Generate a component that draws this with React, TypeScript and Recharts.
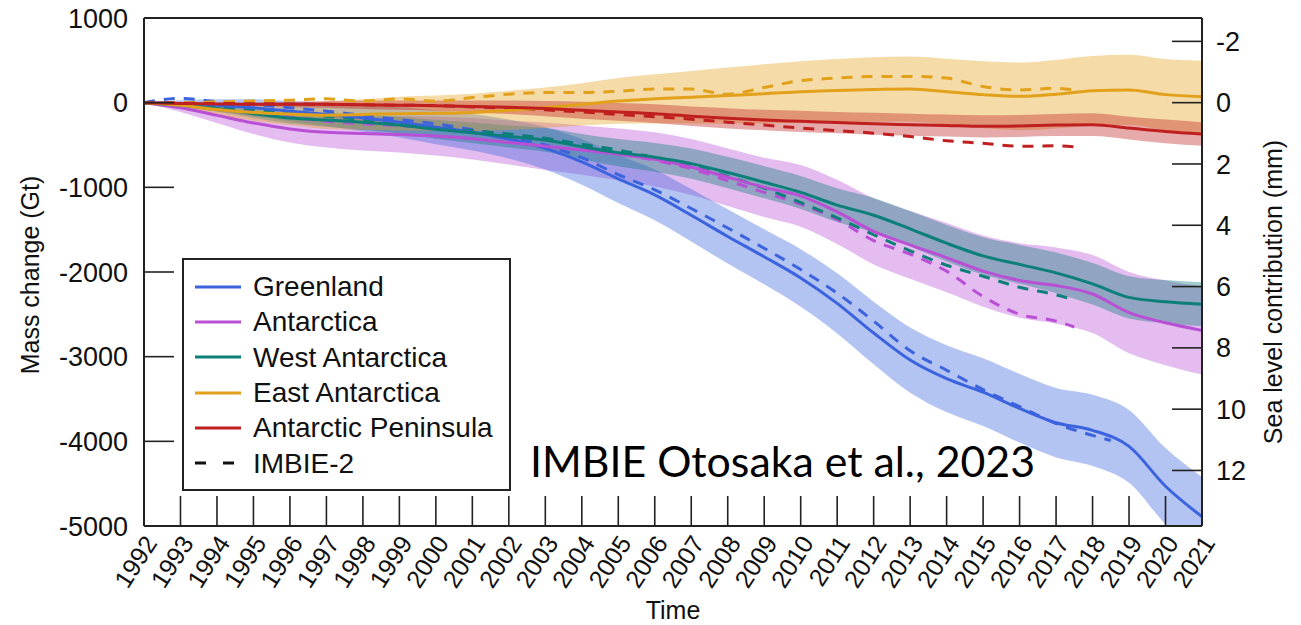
import React from "react";
import { ComposedChart, Line, Area, XAxis, YAxis, Legend } from "recharts";

const years = [
  1992, 1993, 1994, 1995, 1996, 1997, 1998, 1999, 2000, 2001, 2002, 2003, 2004, 2005, 2006,
  2007, 2008, 2009, 2010, 2011, 2012, 2013, 2014, 2015, 2016, 2017, 2018, 2019, 2020, 2021,
];
// IMBIE-2 (Shepherd et al.) records stop earlier
const imbieYears = [
  1992, 1993, 1994, 1995, 1996, 1997, 1998, 1999, 2000, 2001, 2002, 2003, 2004, 2005, 2006,
  2007, 2008, 2009, 2010, 2011, 2012, 2013, 2014, 2015, 2016, 2017, 2017.5,
];
const greenlandImbieYears = [
  1992, 1993, 1994, 1995, 1996, 1997, 1998, 1999, 2000, 2001, 2002, 2003, 2004, 2005, 2006,
  2007, 2008, 2009, 2010, 2011, 2012, 2013, 2014, 2015, 2016, 2017, 2018, 2018.5,
];

const massTicks = [1000, 0, -1000, -2000, -3000, -4000, -5000];
const seaLevelTicks = [-2, 0, 2, 4, 6, 8, 10, 12];
const GT_PER_MM = 362;

// cumulative mass change (Gt)
const greenlandMean = [0, -10, -30, -60, -100, -140, -180, -230, -290, -350, -430, -540, -700, -900, -1090, -1330, -1580, -1820, -2070, -2370, -2720, -3040, -3260, -3420, -3610, -3780, -3870, -4060, -4530, -4890];
const greenlandErr = [0, 40, 70, 100, 120, 140, 160, 180, 200, 215, 230, 250, 270, 285, 300, 310, 320, 325, 340, 355, 370, 385, 395, 400, 405, 410, 420, 430, 450, 470];
const greenlandImbie = [0, 50, 10, -20, -60, -100, -150, -200, -250, -320, -400, -500, -650, -850, -1030, -1250, -1480, -1720, -1970, -2250, -2580, -2930, -3160, -3390, -3590, -3790, -3930, -3990];

const antarcticaMean = [0, -60, -150, -240, -310, -350, -365, -375, -395, -425, -470, -515, -560, -610, -670, -760, -880, -1000, -1100, -1290, -1520, -1680, -1830, -1990, -2100, -2160, -2260, -2480, -2600, -2690];
const antarcticaErr = [0, 50, 90, 130, 160, 180, 200, 215, 230, 245, 260, 280, 290, 305, 320, 330, 340, 350, 365, 380, 390, 400, 410, 420, 440, 450, 460, 480, 500, 520];
const antarcticaImbie = [0, -20, -60, -110, -170, -220, -250, -270, -300, -330, -380, -440, -510, -600, -680, -780, -920, -1060, -1200, -1380, -1630, -1790, -1990, -2290, -2500, -2580, -2650];

const westMean = [0, -30, -70, -130, -180, -205, -230, -265, -315, -355, -400, -440, -520, -590, -645, -720, -825, -940, -1060, -1210, -1330, -1490, -1660, -1810, -1910, -2010, -2140, -2300, -2350, -2380];
const westErr = [0, 20, 35, 50, 65, 80, 90, 100, 110, 120, 130, 140, 150, 160, 170, 180, 185, 190, 195, 200, 205, 210, 215, 220, 230, 240, 245, 250, 255, 260];
const westImbie = [0, -10, -40, -80, -120, -160, -200, -240, -290, -330, -370, -420, -490, -560, -650, -750, -870, -1010, -1180, -1360, -1560, -1750, -1920, -2050, -2180, -2270, -2330];

const eastMean = [0, -30, -80, -115, -135, -150, -140, -130, -125, -115, -90, -60, -20, 20, 45, 65, 85, 105, 130, 145, 155, 160, 130, 95, 75, 100, 140, 150, 95, 70];
const eastErr = [0, 40, 70, 100, 130, 160, 180, 200, 210, 220, 230, 240, 250, 270, 290, 310, 330, 350, 360, 370, 380, 385, 390, 395, 400, 405, 410, 415, 420, 425];
const eastImbie = [0, 0, 10, 20, 30, 45, 20, 45, 20, 60, 100, 120, 120, 135, 160, 160, 100, 180, 260, 290, 310, 310, 290, 190, 150, 170, 150];

const peninsulaMean = [0, -10, -15, -20, -20, -20, -25, -30, -35, -45, -55, -70, -90, -110, -130, -160, -185, -205, -220, -235, -250, -260, -270, -280, -275, -265, -260, -300, -340, -370];
const peninsulaErr = [0, 10, 15, 20, 30, 40, 50, 55, 60, 70, 80, 90, 100, 105, 110, 115, 120, 120, 125, 125, 130, 130, 130, 130, 130, 130, 135, 135, 140, 140];
const peninsulaImbie = [0, -5, -10, -12, -15, -20, -25, -30, -35, -50, -65, -85, -110, -140, -165, -195, -230, -265, -300, -330, -360, -400, -450, -480, -515, -510, -520];

const toLine = (xs: number[], ys: number[]) => xs.map((t, i) => ({ t, v: ys[i] }));
const toBand = (mean: number[], err: number[]) =>
  years.map((t, i) => ({ t, r: [mean[i] - err[i], mean[i] + err[i]] }));

const regions = [
  { name: "Greenland", color: "#3b63de", mean: greenlandMean, err: greenlandErr, imbieX: greenlandImbieYears, imbie: greenlandImbie },
  { name: "Antarctica", color: "#b94fd5", mean: antarcticaMean, err: antarcticaErr, imbieX: imbieYears, imbie: antarcticaImbie },
  { name: "West Antarctica", color: "#0b7f78", mean: westMean, err: westErr, imbieX: imbieYears, imbie: westImbie },
  { name: "East Antarctica", color: "#e2a11b", mean: eastMean, err: eastErr, imbieX: imbieYears, imbie: eastImbie },
  { name: "Antarctic Peninsula", color: "#c01f1f", mean: peninsulaMean, err: peninsulaErr, imbieX: imbieYears, imbie: peninsulaImbie },
];
const bandOrder = ["Antarctica", "Greenland", "West Antarctica", "East Antarctica", "Antarctic Peninsula"];

const FONT = "'Liberation Sans', Arial, sans-serif";

const YearTick = (props: any) => {
  const { x, y, payload } = props;
  const ax = x + 14;
  return (
    <text x={ax} y={y} transform={`rotate(-57 ${ax} ${y})`} textAnchor="end" fontSize={25} fill="#111" fontFamily={FONT}>
      {payload.value}
    </text>
  );
};

const LegendBox = () => (
  <div style={{ width: 329, height: 233, boxSizing: "border-box", border: "2px solid #222", background: "#fff", paddingTop: 9, fontFamily: FONT }}>
    {[...regions.map((r) => ({ name: r.name, color: r.color, dashed: false })), { name: "IMBIE-2", color: "#111", dashed: true }].map((item) => (
      <div key={item.name} style={{ display: "flex", alignItems: "center", height: 35.3 }}>
        <svg width={59} height={10}>
          <line x1={11} x2={57} y1={5} y2={5} stroke={item.color} strokeWidth={3} strokeDasharray={item.dashed ? "11 17" : undefined} />
        </svg>
        <span style={{ marginLeft: 10, fontSize: 28, lineHeight: "35px", color: "#111", whiteSpace: "nowrap" }}>{item.name}</span>
      </div>
    ))}
  </div>
);

export default function App() {
  return (
    <div style={{ position: "absolute", left: 0, top: 0, width: 1301, height: 625, background: "#fff" }}>
      <ComposedChart width={1301} height={625} margin={{ top: 0, right: 0, bottom: 0, left: 0 }}>
        <XAxis
          dataKey="t"
          type="number"
          domain={[1992, 2021]}
          ticks={years}
          interval={0}
          height={99}
          tickSize={-30}
          tickMargin={47}
          axisLine={{ stroke: "#222", strokeWidth: 2 }}
          tickLine={{ stroke: "#222", strokeWidth: 1.6 }}
          tick={<YearTick />}
          allowDataOverflow
        />
        <XAxis
          xAxisId="top"
          orientation="top"
          dataKey="t"
          type="number"
          domain={[1992, 2021]}
          ticks={years}
          interval={0}
          height={18}
          tickSize={-30}
          axisLine={{ stroke: "#222", strokeWidth: 2 }}
          tickLine={{ stroke: "#222", strokeWidth: 1.6 }}
          tick={false}
          allowDataOverflow
        />
        <YAxis
          type="number"
          domain={[-5000, 1000]}
          ticks={massTicks}
          interval={0}
          width={144}
          tickSize={-30}
          tickMargin={46}
          allowDataOverflow
          axisLine={{ stroke: "#222", strokeWidth: 2 }}
          tickLine={{ stroke: "#222", strokeWidth: 1.6 }}
          tick={{ fill: "#111", fontSize: 27, fontFamily: FONT }}
        />
        <YAxis
          yAxisId="mm"
          orientation="right"
          type="number"
          domain={[-5000, 1000]}
          ticks={seaLevelTicks.map((m) => -m * GT_PER_MM)}
          tickFormatter={(v: number) => String(Math.round(-v / GT_PER_MM))}
          interval={0}
          width={99}
          tickSize={-30}
          tickMargin={44}
          allowDataOverflow
          axisLine={{ stroke: "#222", strokeWidth: 2 }}
          tickLine={{ stroke: "#222", strokeWidth: 1.6 }}
          tick={{ fill: "#111", fontSize: 27, fontFamily: FONT }}
        />
        {bandOrder.map((name) => {
          const r = regions.find((g) => g.name === name)!;
          return (
            <Area
              key={`band-${name}`}
              data={toBand(r.mean, r.err)}
              dataKey="r"
              type="monotone"
              stroke="none"
              fill={r.color}
              fillOpacity={0.38}
              isAnimationActive={false}
              legendType="none"
            />
          );
        })}
        {regions.map((r) => (
          <Line
            key={`imbie-${r.name}`}
            data={toLine(r.imbieX, r.imbie)}
            dataKey="v"
            type="monotone"
            stroke={r.color}
            strokeWidth={3}
            strokeDasharray="11 9"
            dot={false}
            isAnimationActive={false}
            legendType="none"
          />
        ))}
        {regions.map((r) => (
          <Line
            key={`mean-${r.name}`}
            data={toLine(years, r.mean)}
            dataKey="v"
            name={r.name}
            type="monotone"
            stroke={r.color}
            strokeWidth={3}
            dot={false}
            isAnimationActive={false}
          />
        ))}
        <Legend
          layout="vertical"
          align="center"
          verticalAlign="middle"
          content={<LegendBox />}
          wrapperStyle={{ left: 182, top: 258, width: 329, height: 233 }}
        />
      </ComposedChart>
      <svg width={1301} height={625} style={{ position: "absolute", left: 0, top: 0, pointerEvents: "none" }}>
        <text x={30} y={275} transform="rotate(-90 30 275)" textAnchor="middle" dominantBaseline="central" fontSize={25} fill="#111" fontFamily={FONT}>
          Mass change (Gt)
        </text>
        <text x={1273} y={292} transform="rotate(-90 1273 292)" textAnchor="middle" dominantBaseline="central" fontSize={25} fill="#111" fontFamily={FONT}>
          Sea level contribution (mm)
        </text>
        <text x={673} y={619} textAnchor="middle" fontSize={25} fill="#111" fontFamily={FONT}>
          Time
        </text>
        <text x={530} y={477} textLength={505} lengthAdjust="spacingAndGlyphs" fontSize={42} fill="#000" fontFamily="Lato, 'Open Sans', sans-serif">
          IMBIE Otosaka et al., 2023
        </text>
      </svg>
    </div>
  );
}
